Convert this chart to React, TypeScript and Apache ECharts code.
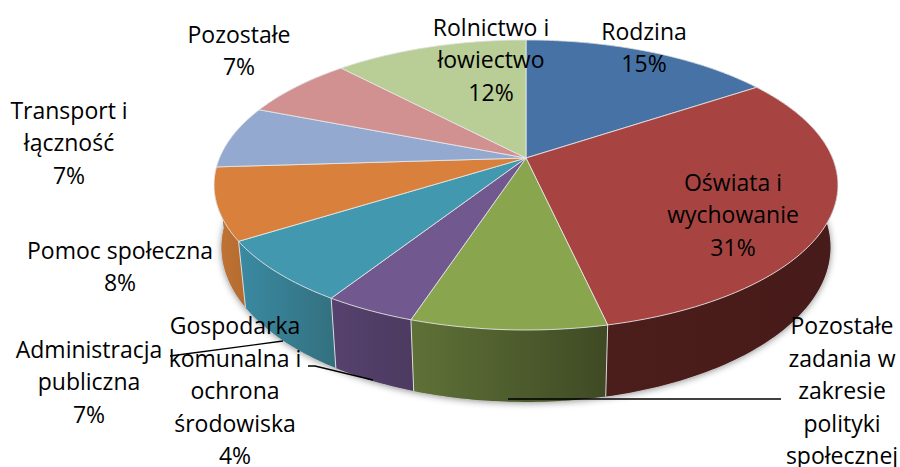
import React, { useEffect, useRef } from "react";
import * as echarts from "echarts";

// Data, clockwise from 12 o'clock
const categories = [
  "Rodzina",
  "Oświata i\nwychowanie",
  "Pozostałe\nzadania w\nzakresie\npolityki\nspołecznej",
  "Gospodarka\nkomunalna i\nochrona\nśrodowiska",
  "Administracja\npubliczna",
  "Pomoc społeczna",
  "Transport i\nłączność",
  "Pozostałe",
  "Rolnictwo i\nłowiectwo",
];
const shares = [15.6, 30.9, 8.5, 4, 7, 8, 7, 7, 12];
// The percentage of the third label falls below the picture's edge in the reference.
const percentLabels = ["15%", "31%", "", "4%", "7%", "8%", "7%", "7%", "12%"];

// Styling
const topColors = ["#4672A6", "#A74442", "#89A54E", "#71588F", "#4198AF", "#D8803C", "#93A9CF", "#D09190", "#B9CD96"];
const wallColors = [
  ["#2f4c70", "#2f4c70"],
  ["#4b1d1b", "#471b19"],
  ["#5f7137", "#3f4a24"],
  ["#56426e", "#4c3a60"],
  ["#3a8aa2", "#33707f"],
  ["#c27434", "#b56b30"],
  ["#6f86ab", "#6f86ab"],
  ["#a87070", "#a87070"],
  ["#95a875", "#95a875"],
];
const labelLayout = [
  { x: 644, y: 47 },
  { x: 733, y: 214 },
  { x: 842, y: 390 },
  { x: 235, y: 390 },
  { x: 89, y: 381 },
  { x: 120, y: 266 },
  { x: 69, y: 142 },
  { x: 239, y: 50 },
  { x: 491, y: 59 },
];
const leaderLines = [
  [[170, 356], [283, 341]],
  [[308, 366], [315, 366], [373, 380]],
  [[508, 399], [781, 399]],
];

// Projection of the tilted disc
const APEX = { x: 526, y: 158 };
const PERSP = 0.186;
const RX = 306.5;
const RY = 140;
const FLOOR = { sx: 0.976, sy: 1.067, y: 218.4 };
const TOTAL = shares.reduce((a, b) => a + b, 0);

const top = (deg: number): number[] => {
  const a = (deg * Math.PI) / 180;
  const w = 1 + PERSP * Math.cos(a);
  return [APEX.x + (RX * Math.sin(a)) / w, APEX.y - (RY * Math.cos(a)) / w];
};
const floor = (deg: number): number[] => {
  const [x, y] = top(deg);
  return [APEX.x + (x - APEX.x) * FLOOR.sx, FLOOR.y + (y - APEX.y) * FLOOR.sy];
};
const arc = (from: number, to: number, fn: (d: number) => number[]): number[][] => {
  const pts: number[][] = [];
  const n = Math.max(2, Math.ceil(to - from));
  for (let i = 0; i <= n; i++) pts.push(fn(from + ((to - from) * i) / n));
  return pts;
};
const seriesData = shares.map((v, i) => ({
  name: categories[i].replace(/\n/g, " "),
  value: [v, shares.slice(0, i).reduce((a, b) => a + b, 0)],
}));
const angles = (api: any) => {
  const v = api.value(0) as number;
  const c = api.value(1) as number;
  return [(c / TOTAL) * 360, ((c + v) / TOTAL) * 360];
};

const renderWall = (params: any, api: any) => {
  const [a0, a1] = angles(api);
  const mid = (a0 + a1) / 2;
  const c = wallColors[params.dataIndex];
  const children: any[] = [];
  if (params.dataIndex === 0) {
    children.push({
      type: "polygon",
      z2: 0,
      shape: { points: arc(0, 360, floor) },
      style: { fill: "#999", shadowBlur: 7, shadowColor: "rgba(0,0,0,0.45)", shadowOffsetY: 1 },
    });
  }
  children.push({
    type: "polygon",
    z2: 10 + Math.round((1 - Math.cos((mid * Math.PI) / 180)) * 10),
    shape: { points: [...arc(a0, a1, top), ...arc(a0, a1, floor).reverse()] },
    style: {
      fill: new echarts.graphic.LinearGradient(0, 0, 1, 0, [
        { offset: 0, color: c[0] },
        { offset: 1, color: c[1] },
      ]),
    },
  });
  if (Math.cos((a0 * Math.PI) / 180) < -0.3) {
    const p = top(a0);
    const q = floor(a0);
    children.push({
      type: "line",
      z2: 40,
      shape: { x1: p[0], y1: p[1], x2: q[0], y2: q[1] },
      style: { stroke: "rgba(232,232,232,0.9)", lineWidth: 1 },
    });
  }
  return { type: "group", children };
};

const renderTop = (params: any, api: any) => {
  const [a0, a1] = angles(api);
  return {
    type: "polygon",
    shape: { points: [[APEX.x, APEX.y], ...arc(a0, a1, top)] },
    style: {
      fill: topColors[params.dataIndex],
      stroke: "rgba(232,232,232,0.85)",
      lineWidth: 1,
      lineJoin: "round",
    },
  };
};

export default function App() {
  const ref = useRef<HTMLDivElement>(null);
  useEffect(() => {
    document.body.style.margin = "0";
    const chart = echarts.init(ref.current!, null, { renderer: "svg" });
    chart.setOption({
      animation: false,
      backgroundColor: "#fff",
      series: [
        {
          type: "custom",
          coordinateSystem: "none",
          z: 1,
          clip: false,
          silent: true,
          renderItem: renderWall,
          data: seriesData,
        },
        {
          type: "custom",
          coordinateSystem: "none",
          z: 2,
          clip: false,
          silent: true,
          renderItem: renderTop,
          data: seriesData,
        },
      ],
      graphic: [
        ...leaderLines.map((points) => ({
          type: "polyline",
          z: 20,
          shape: { points },
          style: { stroke: "#000", lineWidth: 1.4, fill: "none" },
        })),
        ...categories.map((name, i) => ({
          type: "text",
          z: 30,
          x: labelLayout[i].x,
          y: labelLayout[i].y,
          style: {
            text: percentLabels[i] ? `${name}\n${percentLabels[i]}` : name,
            fill: "#000",
            font: '23px "Open Sans"',
            lineHeight: 32.5,
            align: "center",
            verticalAlign: "middle",
          },
        })),
      ],
    });
    return () => chart.dispose();
  }, []);
  return <div ref={ref} style={{ width: 900, height: 467 }} />;
}
